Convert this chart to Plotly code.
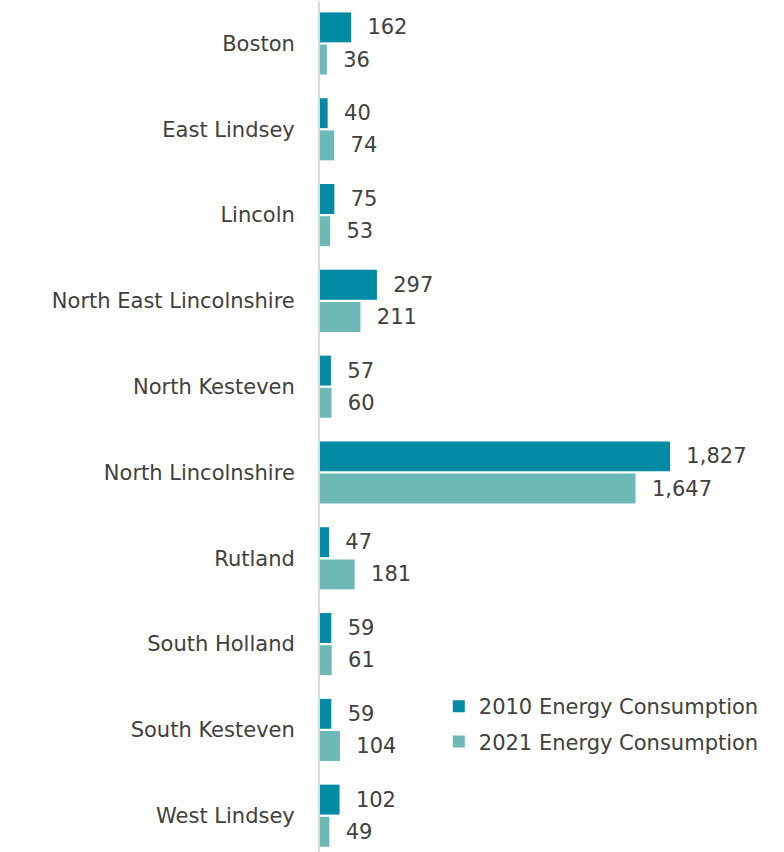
import plotly.graph_objects as go

categories = ["Boston", "East Lindsey", "Lincoln", "North East Lincolnshire", "North Kesteven",
              "North Lincolnshire", "Rutland", "South Holland", "South Kesteven", "West Lindsey"]
values_2010 = [162, 40, 75, 297, 57, 1827, 47, 59, 59, 102]
values_2021 = [36, 74, 53, 211, 60, 1647, 181, 61, 104, 49]
series_names = ["2010 Energy Consumption", "2021 Energy Consumption"]

FONT = "DejaVu Sans"
TXT = "#404040"
FS = 21

fig = go.Figure()
fig.add_trace(go.Bar(
    y=categories, x=values_2010, orientation="h", name=series_names[0],
    marker=dict(color="#008aa3", line=dict(width=0)), legendgroup="a",
    texttemplate="\u00a0\u00a0%{x:,}", textposition="outside", cliponaxis=False,
    textfont=dict(family=FONT, size=FS, color=TXT),
))
fig.add_trace(go.Bar(
    y=categories, x=values_2021, orientation="h", name=series_names[1],
    marker=dict(color="#6db9b5", line=dict(width=0)), legendgroup="b",
    texttemplate="\u00a0\u00a0%{x:,}", textposition="outside", cliponaxis=False,
    textfont=dict(family=FONT, size=FS, color=TXT),
))

fig.update_layout(
    width=784, height=852,
    margin=dict(l=320, r=0, t=1, b=0),
    paper_bgcolor="white", plot_bgcolor="white",
    barmode="group", bargap=0.25, bargroupgap=0.07,
    font=dict(family=FONT, size=FS, color=TXT),
    showlegend=True,
    legend=dict(x=0.256, y=0.195, xanchor="left", yanchor="top",
                tracegroupgap=5, font=dict(family=FONT, size=FS, color=TXT),
                bgcolor="rgba(0,0,0,0)"),
    xaxis=dict(range=[0, 2422], visible=False, showgrid=False, zeroline=False),
    yaxis=dict(range=[9.423, -0.495], showgrid=False, zeroline=False,
               showline=True, linecolor="#d9d9d9", linewidth=2,
               ticks="", ticklabelstandoff=19,
               tickfont=dict(family=FONT, size=FS, color=TXT)),
)

fig.write_html("out.html")
